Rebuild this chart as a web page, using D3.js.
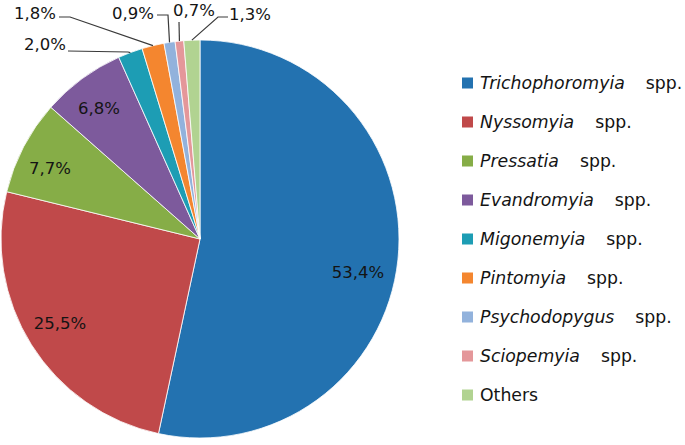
<!DOCTYPE html>
<html><head><meta charset="utf-8">
<script src="https://cdn.jsdelivr.net/npm/d3@7"></script>
<style>
html,body{margin:0;padding:0;background:#fff;}
svg{display:block;font-family:"DejaVu Sans",Verdana,sans-serif;}
</style></head>
<body><svg id="c" width="685" height="445"></svg>
<script>
// Data
const genera = ["Trichophoromyia","Nyssomyia","Pressatia","Evandromyia","Migonemyia","Pintomyia","Psychodopygus","Sciopemyia","Others"];
const suffix = ["spp.","spp.","spp.","spp.","spp.","spp.","spp.","spp.",""];
const percents = [53.4,25.5,7.7,6.8,2.0,1.8,0.9,0.7,1.3];
const labels = ["53,4%","25,5%","7,7%","6,8%","2,0%","1,8%","0,9%","0,7%","1,3%"];
const colors = ["#2372b0","#c0494a","#86ad47","#7d5a9c","#1d9db4","#f4862f","#92b2dc","#e4979a","#b1d391"];

// Layout (label anchor points and leader elbows)
const labelPos = [[358,272],[60,323],[50,168],[99,108],[45,44],[35,13],[133,13],[194,10],[250,14]];
const leader = [null,null,null,null,[[68,51],[128,52]],[[59,17],[70,17]],[[157,15],[168,15]],[[179,22],[179,22]],[[228,17],[218,17]]];

const svg = d3.select("#c");
const cx = 200, cy = 239, r = 199;
const pie = d3.pie().sort(null).value(d => d);
const arcs = pie(percents);
const arc = d3.arc().innerRadius(0).outerRadius(r);
const g = svg.append("g").attr("transform", `translate(${cx},${cy})`);
g.selectAll("path").data(arcs).enter().append("path")
  .attr("d", arc).attr("fill", (d,i) => colors[i])
  .attr("stroke", "#fff").attr("stroke-width", 0.8);

// Leader lines
arcs.forEach((d,i) => {
  if (!leader[i]) return;
  const mid = (d.startAngle + d.endAngle) / 2;
  const ex = cx + r * Math.sin(mid), ey = cy - r * Math.cos(mid);
  const pts = leader[i].concat([[ex, ey]]);
  svg.append("path").attr("d", d3.line()(pts))
    .attr("fill","none").attr("stroke","#3a3a3a").attr("stroke-width",1.2);
});

// Data labels
svg.selectAll("text.lbl").data(labels).enter().append("text")
  .attr("class","lbl")
  .attr("x",(d,i)=>labelPos[i][0]).attr("y",(d,i)=>labelPos[i][1])
  .attr("text-anchor","middle").attr("dominant-baseline","central")
  .attr("font-size",16.5).attr("fill","#141414").text(d=>d);

// Legend
const ly = d3.scalePoint().domain(d3.range(genera.length)).range([83,395]);
const leg = svg.append("g");
genera.forEach((name,i) => {
  const y = ly(i);
  leg.append("rect").attr("x",462).attr("y",y-5.5).attr("width",11).attr("height",11).attr("fill",colors[i]);
  const t = leg.append("text").attr("x",480).attr("y",y).attr("dominant-baseline","central")
    .attr("font-size",17.3).attr("fill","#141414");
  if (suffix[i]) {
    t.append("tspan").attr("font-style","italic").text(name);
    t.append("tspan").attr("dx",21).text(suffix[i]);
  } else {
    t.append("tspan").text(name);
  }
});
</script></body></html>
